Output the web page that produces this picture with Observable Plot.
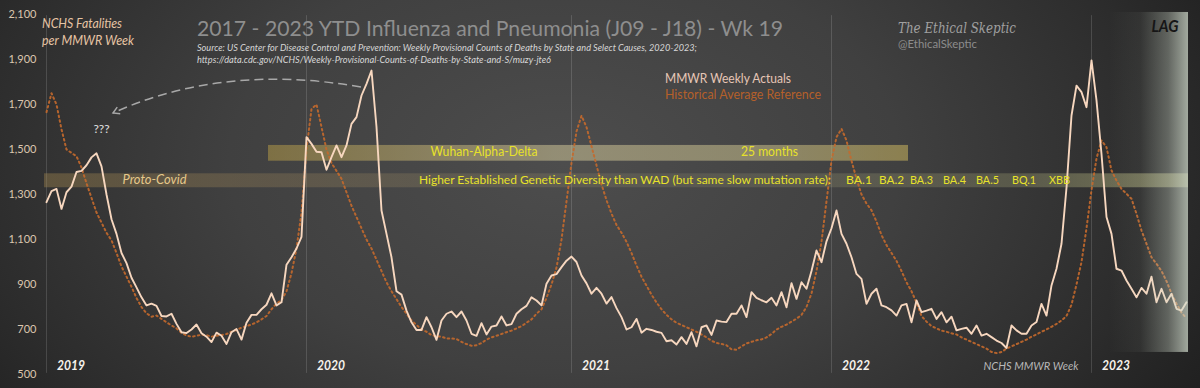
<!DOCTYPE html>
<html><head><meta charset="utf-8">
<script src="https://cdn.jsdelivr.net/npm/d3@7"></script>
<script src="https://cdn.jsdelivr.net/npm/@observablehq/plot@0.6"></script>
<style>
html,body{margin:0;padding:0;background:#2a2a2a;}
#chart svg{display:block;}
</style></head><body><div id="chart"></div>
<script>
// ---- data ----
const years = ["2019", "2020", "2021", "2022", "2023"];
const yearStart = [0, 52, 105, 157, 209]; // MMWR week index where each year begins
const yTicks = [500, 700, 900, 1100, 1300, 1500, 1700, 1900, 2100];

const actual2019 = [1266,1315,1325,1236,1310,1335,1400,1405,1430,1465,1483,1425,1300,1190,1125,1040,995,930,887,843,807,815,805,760,758,770,725,688,684,700,722,683,668,644,686,672,636,688,702,655,730,765,765,790,810,861,807,821,988,1021,1060,1112];
const actual2020 = [1555,1525,1490,1488,1410,1466,1518,1466,1518,1614,1644,1740,1792,1851,1600,1229,1125,1021,870,855,784,732,698,698,755,710,654,740,770,780,755,780,740,681,672,728,678,713,718,758,718,724,770,790,805,843,829,807,903,940,946,977,1006];
const actual2021 = [1024,1000,940,905,859,885,859,815,844,795,755,700,710,747,686,703,698,690,685,648,652,633,666,636,688,625,710,718,676,740,735,733,770,770,807,755,866,841,830,821,841,807,866,799,906,836,910,881,960,1051,999,1092];
const actual2022 = [1150,1229,1125,1081,1021,947,925,814,859,881,807,799,785,762,807,814,732,829,777,784,792,747,777,732,757,696,703,708,681,718,673,681,666,651,640,618,718,696,681,681,718,733,814,762,896,970,1081,1330,1651,1784,1755,1688];
const actual2023 = [1896,1718,1480,1200,1125,970,962,918,881,843,885,859,935,821,881,821,859,792,784,821];

const hist2019 = [1666,1750,1700,1590,1500,1485,1470,1420,1350,1285,1220,1175,1130,1096,1040,980,935,890,840,800,772,757,762,747,732,718,705,685,673,668,672,677,675,668,672,675,680,690,698,708,715,722,732,745,760,790,815,830,870,950,1060,1220];
const hist2020 = [1500,1680,1700,1600,1500,1440,1405,1370,1310,1250,1200,1150,1100,1060,1010,960,910,870,835,800,770,740,720,700,690,675,670,668,660,660,658,645,635,628,630,640,655,665,672,680,688,695,705,715,730,745,770,790,840,900,975,1100,1270];
const hist2021 = [1440,1580,1650,1600,1515,1430,1345,1275,1215,1165,1130,1090,1040,985,935,895,855,820,790,765,745,730,720,710,700,690,678,665,650,640,636,630,612,610,625,638,645,652,656,665,680,700,712,722,735,748,765,800,860,960,1090,1270];
const hist2022 = [1450,1555,1592,1540,1450,1370,1300,1260,1230,1180,1120,1075,1040,1005,960,910,870,820,760,735,715,705,695,690,683,678,665,655,645,635,625,615,600,595,600,615,625,635,645,655,668,678,690,700,712,725,740,760,810,900,1000,1150];
const hist2023 = [1320,1460,1540,1510,1407,1362,1325,1303,1281,1214,1140,1081,1021,992,960,915,860,815,775,750];

const actual = [].concat(actual2019, actual2020, actual2021, actual2022, actual2023);
const hist = [].concat(hist2019, hist2020, hist2021, hist2022, hist2023);
const rows = actual.map((v, i) => ({week: i, actual: v, hist: hist[i]}));
const lastWeek = rows.length - 1;

// ---- chart ----
const chart = Plot.plot({
  width: 1200, height: 388,
  marginLeft: 46, marginRight: 14, marginTop: 14, marginBottom: 14,
  style: {
    background: "radial-gradient(ellipse 62% 120% at 47% 42%, #4d4d4d 0%, #404040 45%, #2c2c2c 80%, #1f1f1f 100%)",
    fontFamily: "Lato, sans-serif", fontSize: "11px", color: "#dcc6ae", overflow: "visible"
  },
  x: {domain: [0, lastWeek], axis: null},
  y: {domain: [500, 2100], ticks: yTicks, tickFormat: d3.format(","), tickSize: 0, tickPadding: 10, label: null},
  marks: [
    Plot.ruleX(yearStart, {x: d => d, y1: () => 505, y2: () => 2095, stroke: "#ffffff", strokeOpacity: 0.14, strokeWidth: 1}),
    Plot.rect([{}], {x1: () => -0.4, x2: () => 228.4, y1: () => 1330, y2: () => 1392, fill: "url(#gLow)"}),
    Plot.rect([{}], {x1: () => 44.4, x2: () => 172.4, y1: () => 1448, y2: () => 1518, fill: "url(#gWuhan)"}),
    Plot.line(rows, {x: "week", y: "hist", stroke: "#c4692c", strokeWidth: 2, strokeOpacity: 0.9, strokeDasharray: "1.6,3.2"}),
    Plot.line(rows, {x: "week", y: "actual", stroke: "#f7d7bf", strokeWidth: 1.9, strokeLinejoin: "round"}),
    Plot.rect([{}], {x1: () => 212.5, x2: () => 228.4, y1: () => 598, y2: () => 2109, fill: "url(#gLag)"})
  ]
});
document.getElementById("chart").appendChild(chart);

const svg = d3.select(chart);
const xs = chart.scale("x");
const defs = svg.insert("defs", ":first-child");
function grad(id, stops) {
  const g = defs.append("linearGradient").attr("id", id).attr("x1", "0").attr("x2", "1").attr("y1", "0").attr("y2", "0");
  stops.forEach(([o, c]) => g.append("stop").attr("offset", o).attr("stop-color", c));
}
grad("gWuhan", [["0%", "rgba(175,150,70,0.55)"], ["45%", "rgba(205,195,150,0.55)"], ["75%", "rgba(200,190,140,0.55)"], ["100%", "rgba(190,170,90,0.6)"]]);
grad("gLow", [["0%", "rgba(170,140,80,0.38)"], ["20%", "rgba(160,135,90,0.3)"], ["55%", "rgba(150,145,115,0.22)"], ["85%", "rgba(170,170,120,0.3)"], ["100%", "rgba(200,200,140,0.5)"]]);
grad("gLag", [["0%", "rgba(205,215,200,0)"], ["40%", "rgba(205,215,200,0.06)"], ["75%", "rgba(205,215,200,0.35)"], ["100%", "rgba(210,220,205,0.72)"]]);

const marker = defs.append("marker").attr("id", "arrowHead").attr("viewBox", "0 0 10 10")
  .attr("refX", 8).attr("refY", 5).attr("markerWidth", 9).attr("markerHeight", 9)
  .attr("markerUnits", "userSpaceOnUse").attr("orient", "auto");
marker.append("path").attr("d", "M1,1 L8,5 L1,9").attr("fill", "none").attr("stroke", "#a8a8a8").attr("stroke-width", 1.6);

function txt(x, y, s, o = {}) {
  const t = svg.append("text").attr("x", x).attr("y", y).text(s)
    .attr("font-family", o.family || "Lato, sans-serif")
    .attr("font-size", o.size || 13)
    .attr("fill", o.color || "#dddddd")
    .attr("text-anchor", o.anchor || "start")
    .attr("dominant-baseline", "middle");
  if (o.italic) t.attr("font-style", "italic");
  if (o.bold) t.attr("font-weight", "bold");
  if (o.len) t.attr("textLength", o.len).attr("lengthAdjust", "spacingAndGlyphs");
  return t;
}

// dashed arrow
svg.append("path").attr("d", "M361,87 Q223,63 113,113")
  .attr("fill", "none").attr("stroke", "#a8a8a8").attr("stroke-width", 1.5)
  .attr("stroke-dasharray", "9,5").attr("marker-end", "url(#arrowHead)");

// texts
txt(42, 25, "NCHS Fatalities", {italic: true, size: 13, color: "#e6c4a4", len: 80});
txt(42, 42, "per MMWR Week", {italic: true, size: 13, color: "#e6c4a4", len: 92});
txt(197, 30, "2017 - 2023 YTD Influenza and Pneumonia (J09 - J18) - Wk 19", {size: 22, color: "#8e8e8e", len: 586});
txt(197, 48.5, "Source: US Center for Disease Control and Prevention: Weekly Provisional Counts of Deaths by State and Select Causes, 2020-2023;", {italic: true, size: 9, color: "#d6d6d6", len: 500});
txt(197, 61, "https://data.cdc.gov/NCHS/Weekly-Provisional-Counts-of-Deaths-by-State-and-S/muzy-jte6", {italic: true, size: 9, color: "#d6d6d6", len: 354});
txt(665, 80, "MMWR Weekly Actuals", {size: 13, color: "#e6c6b6", len: 126});
txt(665, 96, "Historical Average Reference", {size: 13, color: "#b5602a", len: 156});
txt(898, 29, "The Ethical Skeptic", {family: "DejaVu Serif, serif", italic: true, size: 15, color: "#a0a0a0", len: 118});
txt(898, 45, "@EthicalSkeptic", {size: 10.5, color: "#8c8c8c", len: 79});
txt(101.5, 130, "???", {size: 12, color: "#e0e0e0", anchor: "middle"});
txt(122.5, 181, "Proto-Covid", {italic: true, size: 13, color: "#e5c88a", len: 64});
txt(430.5, 153, "Wuhan-Alpha-Delta", {size: 13, color: "#e8e22a", len: 107});
txt(741, 153, "25 months", {size: 13, color: "#e8e22a", len: 57});
txt(419, 181, "Higher Established Genetic Diversity than WAD (but same slow mutation rate):", {size: 11.5, color: "#e8e22a", len: 412});
[["BA.1", 846, 26], ["BA.2", 879, 25], ["BA.3", 910, 23], ["BA.4", 943, 23], ["BA.5", 976, 23], ["BQ.1", 1012, 24], ["XBB", 1049, 21]]
  .forEach(([s, x, w]) => txt(x, 181, s, {size: 12, color: "#e8e22a", len: w}));
txt(1151.5, 28, "LAG", {bold: true, italic: true, size: 17, color: "#161616", len: 27});
txt(983.5, 366.5, "NCHS MMWR Week", {italic: true, size: 12, color: "#b8b8b8", len: 95});
years.forEach((y, i) => txt(xs.apply(yearStart[i]) + 11, 366.5, y, {bold: true, italic: true, size: 14, color: "#f6f2ec", len: 28}));
</script>
</body></html>
